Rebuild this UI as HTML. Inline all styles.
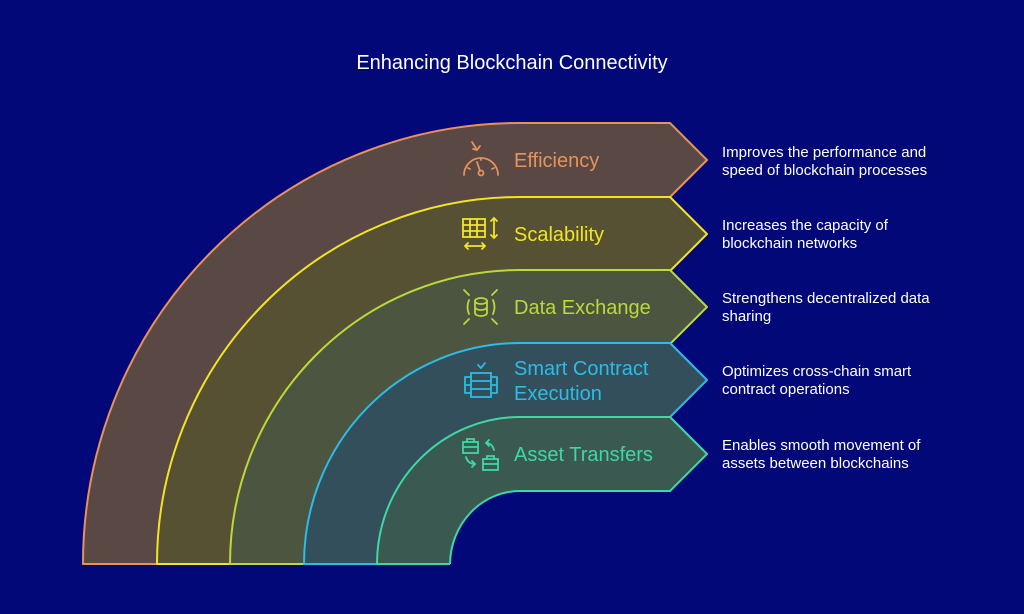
<!DOCTYPE html>
<html><head><meta charset="utf-8"><style>
html,body{margin:0;padding:0;background:#020877;}
svg{display:block}
text{font-family:"Liberation Sans",sans-serif;}
</style></head><body>
<svg width="1024" height="614" viewBox="0 0 1024 614">
<rect width="1024" height="614" fill="#020877"/>
<text x="512" y="69" text-anchor="middle" fill="#fff" font-size="20">Enhancing Blockchain Connectivity</text>
<g stroke-width="2" stroke-linejoin="round">
<path d="M83,564 A437,441 0 0 1 520,123 L670,123 L707,160 L670,197 L520,197 L520,564 Z" fill="#5a4844" stroke="#e8925a"/>
<path d="M157,564 A363,367 0 0 1 520,197 L670,197 L707,234 L670,271 L520,271 L520,564 Z" fill="#555132" stroke="#f2e424"/>
<path d="M230,564 A290,294 0 0 1 520,270 L670,270 L707,307 L670,344 L520,344 L520,564 Z" fill="#4b5540" stroke="#bcd83a"/>
<path d="M304,564 A216,221 0 0 1 520,343 L670,343 L707,380 L670,417 L520,417 L520,564 Z" fill="#344f5c" stroke="#2cbce6"/>
<path d="M377,564 A143,147 0 0 1 520,417 L670,417 L707,454 L670,491 L520,491 L520,564 Z" fill="#3a5950" stroke="#3ed8a4"/>
<path d="M450,565 A70,74 0 0 1 520,491 L522,492 L522,566 Z" fill="#020877" stroke="none"/>
<path d="M450,564 A70,74 0 0 1 520,491 L670,491" fill="none" stroke="#3ed8a4"/>
<rect x="452" y="563" width="72" height="5" fill="#020877"/>
</g>
<g font-size="20">
<text x="514" y="167" fill="#e8925a">Efficiency</text>
<text x="514" y="241" fill="#f2e424">Scalability</text>
<text x="514" y="314" fill="#bcd83a">Data Exchange</text>
<text x="514" y="375" fill="#2cbce6">Smart Contract</text>
<text x="514" y="400" fill="#2cbce6">Execution</text>
<text x="514" y="461" fill="#3ed8a4">Asset Transfers</text>
</g>
<g font-size="15" fill="#fff">
<text x="722" y="157">Improves the performance and</text>
<text x="722" y="175">speed of blockchain processes</text>
<text x="722" y="230">Increases the capacity of</text>
<text x="722" y="248">blockchain networks</text>
<text x="722" y="303">Strengthens decentralized data</text>
<text x="722" y="321">sharing</text>
<text x="722" y="376">Optimizes cross-chain smart</text>
<text x="722" y="394">contract operations</text>
<text x="722" y="450">Enables smooth movement of</text>
<text x="722" y="468">assets between blockchains</text>
</g>
<g fill="none" stroke-width="1.8" stroke-linecap="round">
<g stroke="#e8925a"><path d="M464,175 A17,17 0 0 1 498,175"/><circle cx="481" cy="173" r="2.5"/><path d="M480,171 L477,162"/><path d="M472,142 L477,150 M473,149 L477,150 L480,146"/><path d="M468,168 L470,169 M494,168 L492,169 M481,158 V160"/></g>
<g stroke="#f2e424"><rect x="463" y="219" width="22" height="18"/><path d="M463,225 H485 M463,231 H485 M470,219 V237 M477,219 V237"/><path d="M494,218 V238 M491,221 L494,218 L497,221 M491,235 L494,238 L497,235"/><path d="M465,246 H485 M468,243 L465,246 L468,249 M482,243 L485,246 L482,249"/></g>
<g stroke="#bcd83a"><ellipse cx="481" cy="301" rx="6" ry="3"/><path d="M475,301 V313 A6,3 0 0 0 487,313 V301 M475,307 A6,3 0 0 0 487,307"/><path d="M469,300 Q466,307 469,314 M493,300 Q496,307 493,314"/><path d="M464,290 L469,295 M497,290 L492,295 M464,324 L469,319 M497,324 L492,319"/></g>
<g stroke="#2cbce6"><rect x="471" y="373" width="20" height="24"/><path d="M471,381 H491 M471,389 H491 M465,377 H471 M465,385 H471 M465,393 H471 M491,377 H497 M491,385 H497 M491,393 H497 M465,377 V393 M497,377 V393"/><path d="M478,365 L481,368 L485,363"/></g>
<g stroke="#3ed8a4"><rect x="463" y="442" width="15" height="11"/><path d="M467,442 V439 H474 V442 M463,447 H478"/><rect x="483" y="459" width="15" height="11"/><path d="M487,459 V456 H494 V459 M483,464 H498"/><path d="M494,450 Q492,443 486,443 M489,440 L486,443 L489,446"/><path d="M466,457 Q468,464 475,464 M472,461 L475,464 L472,467"/></g>
</g>
</svg>
</body></html>
